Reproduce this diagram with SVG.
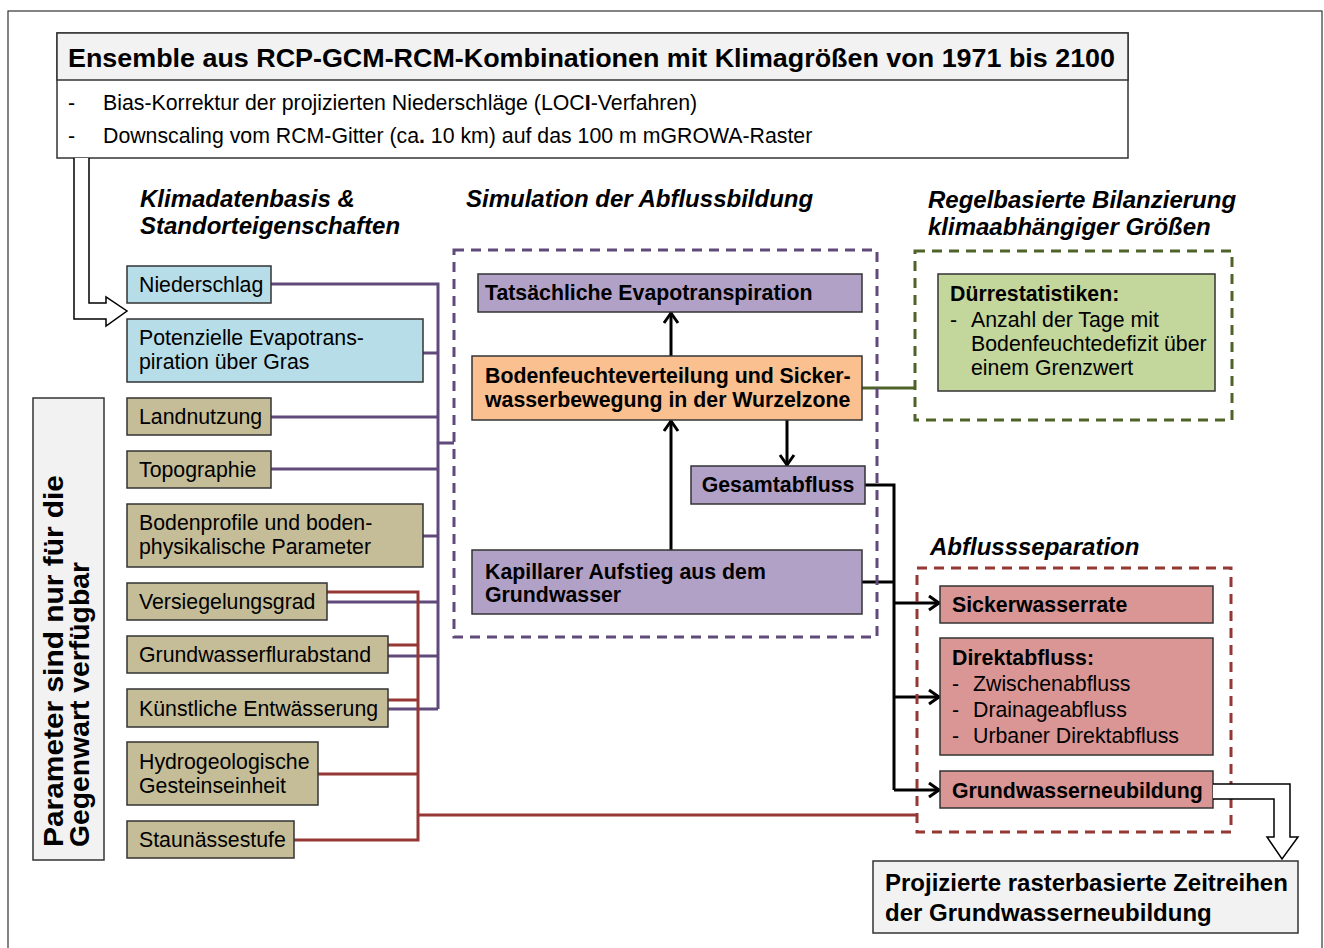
<svg xmlns="http://www.w3.org/2000/svg" width="1324" height="948" viewBox="0 0 1324 948">
<defs>
<style>
text{font-family:"Liberation Sans",Arial,sans-serif;fill:#000}
.b{font-weight:bold}
.h{font-weight:bold;font-style:italic;font-size:24px}
.t19{font-size:21.3px}
.box{stroke:#333;stroke-width:1.5}
.blue{fill:#b7dde8}
.tan{fill:#c4bd97}
.lav{fill:#b2a1c7}
.org{fill:#fac090}
.red{fill:#d99694}
.grn{fill:#c3d69b}
.gry{fill:#f2f2f2}
.pl{fill:none;stroke:#604a7b;stroke-width:3}
.rl{fill:none;stroke:#953735;stroke-width:3}
.kl{fill:none;stroke:#000;stroke-width:3}
.gl{fill:none;stroke:#4f6228;stroke-width:3}
.dash{fill:none;stroke-width:3;stroke-dasharray:10 7}
.hollow{fill:#fff;stroke:#000;stroke-width:1.5}
</style>
<marker id="ah" markerUnits="userSpaceOnUse" markerWidth="16" markerHeight="18" viewBox="0 0 16 18" refX="14" refY="9" orient="auto">
<path d="M3,2 L13,9 L3,16" fill="none" stroke="#000" stroke-width="3"/>
</marker>
</defs>
<rect x="8" y="11" width="1314" height="960" fill="#fff" stroke="#333" stroke-width="1.2"/>

<g id="header">
<rect x="57" y="33" width="1071" height="125" fill="#fff" class="box"/>
<rect x="57" y="33" width="1071" height="47" class="gry box"/>
<text x="68" y="67" class="b" font-size="26" textLength="1047" lengthAdjust="spacingAndGlyphs">Ensemble aus RCP-GCM-RCM-Kombinationen mit Klimagrößen von 1971 bis 2100</text>
<text x="68" y="110" class="t19">-</text>
<text x="103" y="110" class="t19">Bias-Korrektur der projizierten Niederschläge (LOC<tspan class="b">I</tspan>-Verfahren)</text>
<text x="68" y="143" class="t19">-</text>
<text x="103" y="143" class="t19">Downscaling vom RCM-Gitter (ca<tspan class="b">.</tspan> 10 km) auf das 100 m mGROWA-Raster</text>
</g>

<g id="header-arrow">
<path d="M74,158 L74,319 L106,319 L106,326 L127,311 L106,297 L106,303 L89,303 L89,158" class="hollow"/>
</g>

<g id="headings">
<text x="140" y="207" class="h">Klimadatenbasis &amp;</text>
<text x="140" y="234" class="h">Standorteigenschaften</text>
<text x="466" y="207" class="h">Simulation der Abflussbildung</text>
<text x="928" y="208" class="h">Regelbasierte Bilanzierung</text>
<text x="928" y="235" class="h">klimaabhängiger Größen</text>
<text x="930" y="555" class="h">Abflussseparation</text>
</g>

<g id="connectors">
<path class="pl" d="M271,284 H438 V709 M423,353 H438 M271,417 H438 M271,469 H438 M423,536 H438 M327,602 H438 M388,656 H438 M388,709 H438 M438,443 H454"/>
<path class="rl" d="M327,592 H418 V840 H294 M388,645 H418 M388,700 H418 M318,774 H418 M418,815 H917"/>
<path class="gl" d="M862,388 H915"/>
<path class="kl" d="M671,356 V312" marker-end="url(#ah)"/>
<path class="kl" d="M671,550 V420" marker-end="url(#ah)"/>
<path class="kl" d="M787,420 V466" marker-end="url(#ah)"/>
<path class="kl" d="M865,485 H894 V790 M862,582 H894"/>
<path class="kl" d="M894,603 H940" marker-end="url(#ah)"/>
<path class="kl" d="M894,697 H940" marker-end="url(#ah)"/>
<path class="kl" d="M894,790 H940" marker-end="url(#ah)"/>
</g>

<g id="left-note">
<rect x="33" y="398" width="71" height="462" class="gry box"/>
<text transform="translate(63,847) rotate(-90)" class="b" font-size="27" textLength="372" lengthAdjust="spacingAndGlyphs">Parameter sind nur für die</text>
<text transform="translate(89,847) rotate(-90)" class="b" font-size="27" textLength="285" lengthAdjust="spacingAndGlyphs">Gegenwart verfügbar</text>
</g>

<g id="n-niederschlag"><rect x="127" y="266" width="144" height="37" class="box blue"/><text x="139" y="292" class="t19">Niederschlag</text></g>
<g id="n-pet"><rect x="127" y="319" width="296" height="63" class="box blue"/><text x="139" y="345" class="t19">Potenzielle Evapotrans-</text><text x="139" y="369" class="t19">piration über Gras</text></g>
<g id="n-landnutzung"><rect x="127" y="398" width="144" height="37" class="box tan"/><text x="139" y="424" class="t19">Landnutzung</text></g>
<g id="n-topographie"><rect x="127" y="451" width="144" height="37" class="box tan"/><text x="139" y="477" class="t19">Topographie</text></g>
<g id="n-bodenprofile"><rect x="127" y="504" width="296" height="63" class="box tan"/><text x="139" y="530" class="t19">Bodenprofile und boden-</text><text x="139" y="554" class="t19">physikalische Parameter</text></g>
<g id="n-versiegelung"><rect x="127" y="583" width="200" height="37" class="box tan"/><text x="139" y="609" class="t19">Versiegelungsgrad</text></g>
<g id="n-gwflur"><rect x="127" y="636" width="261" height="37" class="box tan"/><text x="139" y="662" class="t19">Grundwasserflurabstand</text></g>
<g id="n-entwaesserung"><rect x="127" y="689" width="261" height="38" class="box tan"/><text x="139" y="716" class="t19">Künstliche Entwässerung</text></g>
<g id="n-hydrogeo"><rect x="127" y="742" width="191" height="63" class="box tan"/><text x="139" y="769" class="t19">Hydrogeologische</text><text x="139" y="793" class="t19">Gesteinseinheit</text></g>
<g id="n-staunaesse"><rect x="127" y="821" width="167" height="37" class="box tan"/><text x="139" y="847" class="t19">Staunässestufe</text></g>

<g id="g-simulation"><rect x="454" y="250" width="423" height="387" class="dash" stroke="#604a7b"/></g>
<g id="n-eta"><rect x="478" y="274" width="384" height="38" class="box lav"/><text x="485" y="300" class="b t19">Tatsächliche Evapotranspiration</text></g>
<g id="n-bodenfeuchte"><rect x="472" y="356" width="390" height="64" class="box org"/><text x="485" y="383" class="b t19">Bodenfeuchteverteilung und Sicker-</text><text x="485" y="407" class="b t19">wasserbewegung in der Wurzelzone</text></g>
<g id="n-gesamtabfluss"><rect x="691" y="466" width="174" height="38" class="box lav"/><text x="778" y="492" class="b t19" text-anchor="middle">Gesamtabfluss</text></g>
<g id="n-kapillar"><rect x="472" y="550" width="390" height="64" class="box lav"/><text x="485" y="579" class="b t19">Kapillarer Aufstieg aus dem</text><text x="485" y="602" class="b t19">Grundwasser</text></g>

<g id="g-regel"><rect x="915" y="251" width="317" height="169" class="dash" stroke="#4f6228"/></g>
<g id="n-duerre"><rect x="938" y="274" width="277" height="117" class="box grn"/><text x="950" y="301" class="b t19">Dürrestatistiken:</text><text x="950" y="327" class="t19">-</text><text x="971" y="327" class="t19">Anzahl der Tage mit</text><text x="971" y="351" class="t19">Bodenfeuchtedefizit über</text><text x="971" y="375" class="t19">einem Grenzwert</text></g>

<g id="g-abfluss"><rect x="917" y="568" width="314" height="264" class="dash" stroke="#953735"/></g>
<g id="n-sickerwasser"><rect x="940" y="586" width="273" height="37" class="box red"/><text x="952" y="612" class="b t19">Sickerwasserrate</text></g>
<g id="n-direkt"><rect x="940" y="638" width="273" height="117" class="box red"/><text x="952" y="665" class="b t19">Direktabfluss:</text><text x="952" y="691" class="t19">-</text><text x="973" y="691" class="t19">Zwischenabfluss</text><text x="952" y="717" class="t19">-</text><text x="973" y="717" class="t19">Drainageabfluss</text><text x="952" y="743" class="t19">-</text><text x="973" y="743" class="t19">Urbaner Direktabfluss</text></g>
<g id="n-gwneu"><rect x="940" y="771" width="273" height="37" class="box red"/><text x="952" y="798" class="b t19">Grundwasserneubildung</text></g>

<g id="out-arrow"><path d="M1213,784 L1290,784 L1290,837 L1298,837 L1282,859 L1267,837 L1274,837 L1274,799 L1213,799" class="hollow"/></g>
<g id="n-projiziert"><rect x="873" y="861" width="425" height="72" class="box gry"/><text x="885" y="891" class="b" font-size="24">Projizierte rasterbasierte Zeitreihen</text><text x="885" y="921" class="b" font-size="24">der Grundwasserneubildung</text></g>
</svg>
